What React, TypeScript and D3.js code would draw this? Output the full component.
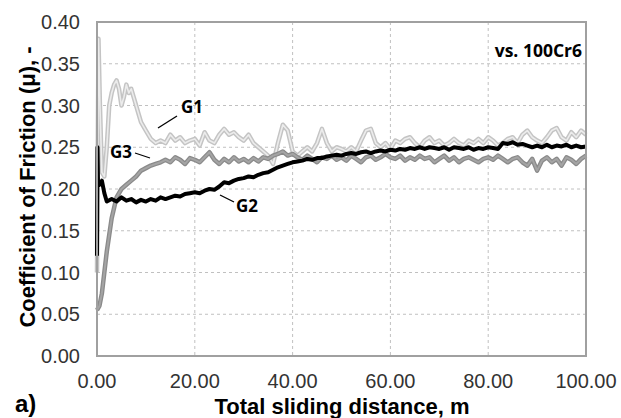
import React from "react";
import * as d3 from "d3";

// sliding distance (m) and coefficient of friction
const g1Dist = [0, 0.3, 0.6, 1.0, 1.5, 2.0, 2.5, 3, 3.5, 4, 4.5, 5, 5.5, 6, 6.5, 7, 7.5, 8, 8.5, 9, 10, 11, 12, 13, 14,
  15, 16, 17, 18, 19, 20, 21, 22, 23, 24, 25, 26, 27, 28, 29, 30, 31, 32, 33, 34, 35, 36, 37, 38, 39, 40,
  41, 42, 43, 44, 45, 46, 47, 48, 49, 50, 51, 52, 53, 54, 55, 56, 57, 58, 59, 60, 61, 62, 63, 64, 65, 66, 67, 68, 69, 70,
  71, 72, 73, 74, 75, 76, 77, 78, 79, 80, 81, 82, 83, 84, 85, 86, 87, 88, 89, 90, 91, 92, 93, 94, 95, 96, 97, 98, 99, 100];
const g1Cof = [0.10, 0.38, 0.30, 0.22, 0.215, 0.25, 0.30, 0.315, 0.325, 0.33, 0.32, 0.30, 0.31, 0.325, 0.315, 0.32, 0.31, 0.30, 0.29, 0.28, 0.27, 0.26, 0.255, 0.258, 0.255,
  0.265, 0.258, 0.262, 0.255, 0.258, 0.26, 0.252, 0.268, 0.258, 0.255, 0.265, 0.272, 0.265, 0.268, 0.262, 0.258, 0.265, 0.255, 0.25, 0.245, 0.24, 0.23, 0.255, 0.277, 0.27, 0.245,
  0.24, 0.245, 0.25, 0.245, 0.255, 0.272, 0.255, 0.245, 0.25, 0.248, 0.245, 0.25, 0.245, 0.258, 0.27, 0.272, 0.255, 0.25, 0.255, 0.248, 0.258, 0.255, 0.26, 0.262, 0.255, 0.25, 0.258, 0.262, 0.255, 0.258,
  0.252, 0.255, 0.26, 0.255, 0.252, 0.258, 0.255, 0.26, 0.255, 0.262, 0.258, 0.252, 0.255, 0.26, 0.262, 0.255, 0.265, 0.27, 0.262, 0.258, 0.255, 0.262, 0.27, 0.273, 0.262, 0.258, 0.268, 0.262, 0.27, 0.265];

const g3Dist = [0, 0.5, 1, 1.5, 2, 2.5, 3, 4, 5, 6, 7, 8, 9, 10, 11, 12, 13, 14, 15, 16, 17, 18, 19, 20,
  21, 22, 23, 24, 25, 26, 27, 28, 29, 30, 31, 32, 33, 34, 35, 36, 37, 38, 39, 40,
  41, 42, 43, 44, 45, 46, 47, 48, 49, 50, 51, 52, 53, 54, 55, 56, 57, 58, 59, 60, 61, 62, 63, 64, 65, 66, 67, 68, 69, 70,
  71, 72, 73, 74, 75, 76, 77, 78, 79, 80, 81, 82, 83, 84, 85, 86, 87, 88, 89, 90, 91, 92, 93, 94, 95, 96, 97, 98, 99, 100];
const g3Cof = [0.055, 0.06, 0.075, 0.10, 0.125, 0.145, 0.165, 0.19, 0.20, 0.205, 0.21, 0.215, 0.222, 0.225, 0.228, 0.23, 0.232, 0.235, 0.232, 0.238, 0.235, 0.23, 0.237, 0.235,
  0.232, 0.238, 0.244, 0.235, 0.23, 0.236, 0.232, 0.238, 0.233, 0.236, 0.232, 0.237, 0.233, 0.238, 0.236, 0.24, 0.242, 0.245, 0.24, 0.242,
  0.238, 0.235, 0.24, 0.236, 0.232, 0.238, 0.236, 0.24, 0.235, 0.238, 0.234, 0.24, 0.236, 0.232, 0.238, 0.24, 0.235, 0.238, 0.242, 0.238, 0.236, 0.24, 0.234, 0.238, 0.235, 0.24, 0.236, 0.238, 0.232, 0.236,
  0.24, 0.234, 0.238, 0.232, 0.236, 0.238, 0.235, 0.232, 0.236, 0.238, 0.235, 0.24, 0.236, 0.232, 0.236, 0.238, 0.232, 0.228, 0.236, 0.222, 0.234, 0.238, 0.232, 0.236, 0.228, 0.238, 0.235, 0.23, 0.236, 0.24];

const g2Dist = [0, 0.1, 0.2, 0.5, 1.0, 1.5, 2, 3, 4, 5, 6, 7, 8, 9, 10, 11, 12, 13, 14, 15, 16, 17, 18, 19, 20,
  21, 22, 23, 24, 25, 26, 27, 28, 29, 30, 31, 32, 33, 34, 35, 36, 37, 38, 39, 40,
  41, 42, 43, 44, 45, 46, 47, 48, 49, 50, 51, 52, 53, 54, 55, 56, 57, 58, 59, 60, 61, 62, 63, 64, 65, 66, 67, 68, 69, 70,
  71, 72, 73, 74, 75, 76, 77, 78, 79, 80, 81, 82, 83, 84, 85, 86, 87, 88, 89, 90, 91, 92, 93, 94, 95, 96, 97, 98, 99, 100];
const g2Cof = [0.12, 0.25, 0.21, 0.205, 0.21, 0.195, 0.185, 0.188, 0.185, 0.19, 0.186, 0.188, 0.184, 0.187, 0.185, 0.188, 0.186, 0.19, 0.188, 0.19, 0.192, 0.191, 0.194, 0.195, 0.196,
  0.195, 0.198, 0.2, 0.199, 0.203, 0.208, 0.207, 0.21, 0.212, 0.213, 0.215, 0.214, 0.217, 0.219, 0.22, 0.223, 0.226, 0.228, 0.23, 0.232,
  0.233, 0.234, 0.236, 0.235, 0.237, 0.237, 0.239, 0.24, 0.241, 0.24, 0.242, 0.243, 0.242, 0.244, 0.245, 0.243, 0.245, 0.246, 0.245, 0.247, 0.246, 0.248, 0.247, 0.249, 0.248, 0.25, 0.248, 0.25, 0.249, 0.248,
  0.25, 0.247, 0.25, 0.249, 0.248, 0.25, 0.247, 0.249, 0.248, 0.25, 0.249, 0.248, 0.255, 0.254, 0.256, 0.253, 0.254, 0.252, 0.25, 0.252, 0.25, 0.253, 0.25, 0.252, 0.251, 0.253, 0.25, 0.252, 0.25, 0.251];

const xTicks = [0, 20, 40, 60, 80, 100];
const yTicks = [0, 0.05, 0.1, 0.15, 0.2, 0.25, 0.3, 0.35, 0.4];

const W = 621, H = 418;
const plot = { left: 97, right: 586, top: 22, bottom: 356 };

export default function App() {
  const x = d3.scaleLinear().domain([0, 100]).range([plot.left, plot.right]);
  const y = d3.scaleLinear().domain([0, 0.4]).range([plot.bottom, plot.top]);

  const line = d3.line<[number, number]>()
    .x(d => x(d[0]))
    .y(d => y(d[1]));

  const zip = (xs: number[], ys: number[]) => xs.map((v, i) => [v, ys[i]] as [number, number]);
  const p1 = line(zip(g1Dist, g1Cof)) || "";
  const p2 = line(zip(g2Dist, g2Cof)) || "";
  const p3 = line(zip(g3Dist, g3Cof)) || "";

  const tickFont = "'Liberation Sans', Arial, sans-serif";
  const noteFont = "'Open Sans', 'Liberation Sans', sans-serif";

  return (
    <svg width={W} height={H} style={{ position: "absolute", left: 0, top: 0, background: "#fff" }}>
      {/* grid */}
      {yTicks.slice(1, -1).map(t => (
        <line key={"gy" + t} x1={plot.left} x2={plot.right} y1={y(t)} y2={y(t)}
          stroke="#c0c0c0" strokeWidth={1} strokeDasharray="3,3" />
      ))}
      {xTicks.slice(1, -1).map(t => (
        <line key={"gx" + t} x1={x(t)} x2={x(t)} y1={plot.top} y2={plot.bottom}
          stroke="#c0c0c0" strokeWidth={1} strokeDasharray="3,3" />
      ))}

      {/* series */}
      <path d={p1} fill="none" stroke="#c4c4c4" strokeWidth={4.5} strokeLinejoin="round" />
      <path d={p1} fill="none" stroke="#ececec" strokeWidth={1.6} strokeLinejoin="round" />
      <path d={p3} fill="none" stroke="#8a8a8a" strokeWidth={4.5} strokeLinejoin="round" />
      <path d={p3} fill="none" stroke="#a4a4a4" strokeWidth={2} strokeLinejoin="round" />
      <path d={p2} fill="none" stroke="#000" strokeWidth={4} strokeLinejoin="round" />

      {/* frame */}
      <rect x={plot.left} y={plot.top} width={plot.right - plot.left} height={plot.bottom - plot.top}
        fill="none" stroke="#a0a0a0" strokeWidth={2} />

      {/* y tick labels */}
      {yTicks.map(t => (
        <text key={"ty" + t} x={80} y={y(t)} dy="0.35em" textAnchor="end"
          fontFamily={tickFont} fontSize={20} fill="#333">{t.toFixed(2)}</text>
      ))}
      {/* x tick labels */}
      {xTicks.map(t => (
        <text key={"tx" + t} x={x(t)} y={388} textAnchor="middle"
          fontFamily={tickFont} fontSize={20} fill="#333">{t.toFixed(2)}</text>
      ))}

      {/* axis titles */}
      <text x={342} y={414} textAnchor="middle" fontFamily={tickFont} fontWeight="bold"
        fontSize={22} fill="#000">Total sliding distance, m</text>
      <text transform={`translate(35,${187}) rotate(-90)`} textAnchor="middle" fontFamily={tickFont}
        fontWeight="bold" fontSize={22} fill="#000">Coefficient of Friction (μ), -</text>
      <text x={15} y={412} fontFamily={tickFont} fontWeight="bold" fontSize={24} fill="#000">a)</text>

      {/* annotations */}
      <text x={582} y={57} textAnchor="end" fontFamily={noteFont} fontWeight="bold" fontSize={17.5} fill="#000">vs. 100Cr6</text>
      <text x={181} y={113} fontFamily={noteFont} fontWeight="bold" fontSize={17} fill="#000">G1</text>
      <line x1={177} y1={116} x2={158} y2={128} stroke="#000" strokeWidth={1.3} />
      <text x={110} y={158} fontFamily={noteFont} fontWeight="bold" fontSize={17} fill="#000">G3</text>
      <line x1={135} y1={153} x2={150} y2={158} stroke="#000" strokeWidth={1.3} />
      <text x={236} y={212} fontFamily={noteFont} fontWeight="bold" fontSize={17} fill="#000">G2</text>
      <line x1={220} y1={195} x2={234} y2={202} stroke="#000" strokeWidth={1.3} />
    </svg>
  );
}
